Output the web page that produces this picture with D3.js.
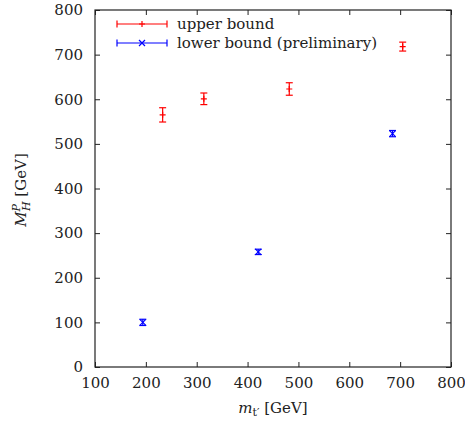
<!DOCTYPE html>
<html lang="en">
    <head>
        <meta charset="utf-8">
        <title>Higgs mass bounds</title>
        <script type="text/javascript" src="https://d3js.org/d3.v7.min.js"></script>
        <style>
            body { margin: 0; background: white; }
            svg { display: block; }
            svg text { font-family: "DejaVu Serif", "Liberation Serif", serif !important; fill: #222; }
        </style>
    </head>
    <body>
        <script>
            const w = 465;
            const h = 428;

            // data
            const upperX = [233, 314, 482, 705];
            const upperY = [565, 601, 623, 718];
            const upperErr = [16, 13, 14, 10];

            const lowerX = [194, 421, 685];
            const lowerY = [100, 258, 523];
            const lowerErr = [7, 6, 7];

            const xTicks = [100, 200, 300, 400, 500, 600, 700, 800];
            const yTicks = [0, 100, 200, 300, 400, 500, 600, 700, 800];

            const seriesNames = ["upper bound", "lower bound (preliminary)"];

            const mLeft = 95, mRight = 451, mTop = 10, mBottom = 367;
            const fs = "15px";

            const xScale = d3.scaleLinear().domain([100, 800]).range([mLeft, mRight]);
            const yScale = d3.scaleLinear().domain([0, 800]).range([mBottom, mTop]);

            const svg = d3.select("body")
                        .append("svg")
                        .attr("width", w)
                        .attr("height", h);

            //axes (ticks inward, mirrored)
            const tl = 5;
            svg.append("g")
               .attr("transform", "translate(0," + mBottom + ")")
               .call(d3.axisBottom(xScale).tickValues(xTicks).tickSize(-tl).tickPadding(10))
               .call(g => g.select(".domain").remove());
            svg.append("g")
               .attr("transform", "translate(0," + mTop + ")")
               .call(d3.axisTop(xScale).tickValues(xTicks).tickSize(-tl).tickFormat(""))
               .call(g => g.select(".domain").remove());
            svg.append("g")
               .attr("transform", "translate(" + mLeft + ",0)")
               .call(d3.axisLeft(yScale).tickValues(yTicks).tickSize(-tl).tickPadding(12))
               .call(g => g.select(".domain").remove());
            svg.append("g")
               .attr("transform", "translate(" + mRight + ",0)")
               .call(d3.axisRight(yScale).tickValues(yTicks).tickSize(-tl).tickFormat(""))
               .call(g => g.select(".domain").remove());

            svg.selectAll(".tick line").attr("stroke", "#222");
            svg.selectAll(".tick text")
               .attr("font-size", fs)
               .attr("fill", "#222");

            //frame
            svg.append("rect")
               .attr("x", mLeft).attr("y", mTop)
               .attr("width", mRight - mLeft).attr("height", mBottom - mTop)
               .attr("fill", "none")
               .attr("stroke", "#222")
               .attr("stroke-width", 1.2);

            //axis labels
            const xl = svg.append("text")
               .attr("x", (mLeft + mRight) / 2)
               .attr("y", 413)
               .attr("text-anchor", "middle")
               .attr("font-size", fs);
            xl.append("tspan").attr("font-style", "italic").text("m");
            xl.append("tspan").attr("font-size", "11px").attr("dy", 3).text("t\u2032");
            xl.append("tspan").attr("dy", -3).text(" [GeV]");

            const yl = svg.append("text")
               .attr("transform", "translate(26,190) rotate(-90)")
               .attr("text-anchor", "middle")
               .attr("font-size", fs);
            yl.append("tspan").attr("font-style", "italic").text("M");
            yl.append("tspan").attr("font-style", "italic").attr("font-size", "11px").attr("dy", -6).text("P");
            yl.append("tspan").attr("font-style", "italic").attr("font-size", "11px").attr("dx", -7).attr("dy", 10).text("H");
            yl.append("tspan").attr("dy", -4).text(" [GeV]");

            //error bars with points
            const cap = 3.5;
            function drawSeries(xs, ys, es, color, marker) {
                const g = svg.append("g").attr("stroke", color).attr("stroke-width", 1.2).attr("fill", "none");
                xs.forEach(function(x, i) {
                    const px = xScale(x);
                    const y0 = yScale(ys[i] - es[i]);
                    const y1 = yScale(ys[i] + es[i]);
                    const py = yScale(ys[i]);
                    g.append("line").attr("x1", px).attr("x2", px).attr("y1", y0).attr("y2", y1);
                    g.append("line").attr("x1", px - cap).attr("x2", px + cap).attr("y1", y0).attr("y2", y0);
                    g.append("line").attr("x1", px - cap).attr("x2", px + cap).attr("y1", y1).attr("y2", y1);
                    drawMarker(g, px, py, marker);
                });
            }

            function drawMarker(g, px, py, marker) {
                const s = 3;
                if (marker == "plus") {
                    g.append("path").attr("d", "M" + (px - s) + "," + py + "H" + (px + s) + "M" + px + "," + (py - s) + "V" + (py + s));
                } else {
                    g.append("path").attr("d", "M" + (px - s) + "," + (py - s) + "L" + (px + s) + "," + (py + s) +
                                               "M" + (px - s) + "," + (py + s) + "L" + (px + s) + "," + (py - s));
                }
            }

            drawSeries(upperX, upperY, upperErr, "#ff0000", "plus");
            drawSeries(lowerX, lowerY, lowerErr, "#0000ff", "cross");

            //legend
            const legend = [
                { name: seriesNames[0], color: "#ff0000", marker: "plus", y: 24 },
                { name: seriesNames[1], color: "#0000ff", marker: "cross", y: 43 }
            ];
            legend.forEach(function(d) {
                const g = svg.append("g").attr("stroke", d.color).attr("stroke-width", 1.2).attr("fill", "none");
                g.append("line").attr("x1", 117).attr("x2", 167).attr("y1", d.y).attr("y2", d.y);
                g.append("line").attr("x1", 117).attr("x2", 117).attr("y1", d.y - cap).attr("y2", d.y + cap);
                g.append("line").attr("x1", 167).attr("x2", 167).attr("y1", d.y - cap).attr("y2", d.y + cap);
                drawMarker(g, 142, d.y, d.marker);
                svg.append("text")
                   .attr("x", 177)
                   .attr("y", d.y + 5)
                   .attr("font-size", fs)
                   .text(d.name);
            });
        </script>
    </body>
</html>
